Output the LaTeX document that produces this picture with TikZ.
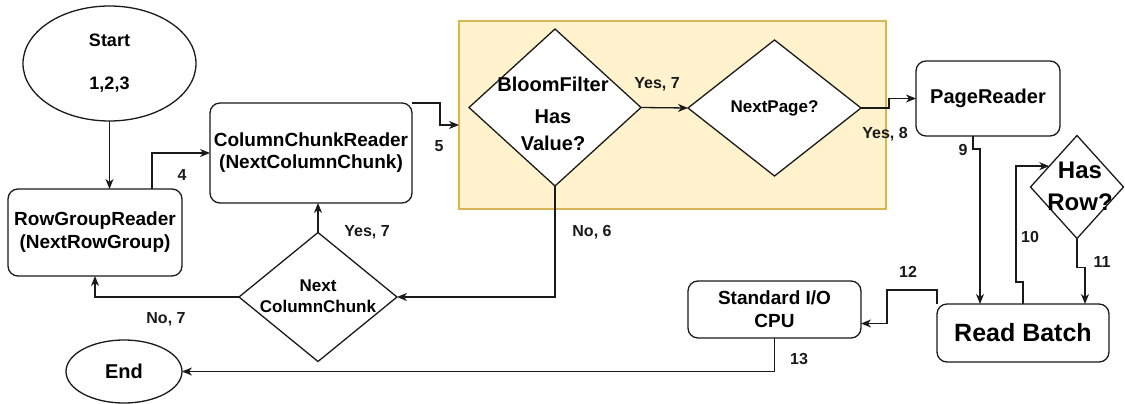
\documentclass[tikz,border=0pt]{standalone}
\usepackage{fontspec}
\setmainfont{Liberation Sans}
\usetikzlibrary{shapes.geometric,arrows.meta}
\definecolor{panelfill}{HTML}{FFF2CC}
\definecolor{panelline}{HTML}{D6B656}
\definecolor{ink}{HTML}{1A1A1A}

\begin{document}
\begin{tikzpicture}[x=1pt,y=-1pt,
  every node/.style={inner sep=0pt, outer sep=0pt, font=\bfseries},
  box/.style={draw=ink, line width=1.3pt, rounded corners=10pt, fill=white},
  oval/.style={draw=ink, line width=1.3pt, ellipse, fill=white},
  dia/.style={draw=ink, line width=1.3pt, diamond, fill=white},
  link/.style={draw=ink, line width=1.3pt, -{Stealth[length=10pt,width=8pt,inset=3pt]}},
  tag/.style={font=\fontsize{16}{19}\selectfont\bfseries, text=ink},
]
\useasboundingbox (0,0) rectangle (1125,404);

% highlighted page-level region
\node[draw=panelline, fill=panelfill, line width=1.2pt, minimum width=427, minimum height=188] (panel) at (672.5,115) {};

% terminals
\node[oval, minimum width=173, minimum height=115, align=center,
      font=\fontsize{18}{22}\selectfont\bfseries] (start) at (109.5,63.5) {Start\\[21pt]1,2,3};
\node[oval, minimum width=116, minimum height=63,
      font=\fontsize{20}{24}\selectfont\bfseries] (end) at (124,371.5) {End};

% readers
\node[box, minimum width=174, minimum height=87, align=center,
      font=\fontsize{19}{23}\selectfont\bfseries] (rowgroup) at (95,232.5) {RowGroupReader\\(NextRowGroup)};
\node[box, minimum width=202, minimum height=100, align=center,
      font=\fontsize{19}{22}\selectfont\bfseries] (colchunk) at (311,153) {ColumnChunkReader\\(NextColumnChunk)};
\node[box, minimum width=144, minimum height=75,
      font=\fontsize{20}{24}\selectfont\bfseries] (pagereader) at (988,98.5) {PageReader};
\node[box, minimum width=172, minimum height=58,
      font=\fontsize{25}{30}\selectfont\bfseries] (readbatch) at (1023,333) {Read Batch};
\node[box, minimum width=173, minimum height=57, align=center,
      font=\fontsize{19}{23}\selectfont\bfseries] (stdio) at (774.5,309.5) {Standard I/O\\CPU};

% decisions
\node[dia, minimum width=158, minimum height=129] (nextcc) at (318,297) {};
\node[align=center, font=\fontsize{17}{21}\selectfont\bfseries] (nextcctxt) at (318,296.5) {Next\\ColumnChunk};

\node[dia, minimum width=172, minimum height=157] (bloom) at (555,107.5) {};
\node[align=center, font=\fontsize{20}{24}\selectfont\bfseries] (bloomtxt) at (553,114) {BloomFilter\\[8pt]Has\\[3pt]Value?};

\node[dia, minimum width=173, minimum height=136,
      font=\fontsize{17}{20}\selectfont\bfseries] (nextpage) at (774.5,108) {NextPage?};

\node[dia, minimum width=93, minimum height=103] (hasrow) at (1077,187) {};
\node[align=center, font=\fontsize{24}{28}\selectfont\bfseries] (hasrowtxt) at (1080,186) {Has\\[4pt]Row?};

% connectors
\draw[link] (start.south) -- (start.south |- rowgroup.north);
\draw[link] ([xshift=57pt]rowgroup.north) |- (colchunk.west);
\draw[link] (colchunk.north east) -- ++(28,0) |- ([yshift=-10pt]panel.west);
\draw[link] (bloom.east) -- (nextpage.west);
\draw[link] (nextpage.east) -- ++(28,0) |- (pagereader.west);
\draw[link] ([xshift=-15pt]pagereader.south) -- ++(0,13) -| ([xshift=-43pt]readbatch.north);
\draw[link] (readbatch.north) -- ++(0,-22) -- ++(-7,0) |- (hasrow.143);
\draw[link] (hasrow.south) -- ++(0,29) -| ([xshift=62pt]readbatch.north);
\draw[link] (readbatch.north west) -- ++(0,-14) -- ++(-50,0) |- ([yshift=-14pt]stdio.east);
\draw[link] (stdio.south) |- (end.east);
\draw[link] (bloom.south) |- (nextcc.east);
\draw[link] (nextcc.north) -- (nextcc.north |- colchunk.south);
\draw[link] (nextcc.west) -| (rowgroup.south);

% connector labels
\node[tag] (l4) at (182,175) {4};
\node[tag] (l5) at (439,146) {5};
\node[tag] (lyes7a) at (657,84) {Yes, 7};
\node[tag] (lyes8) at (885,134) {Yes, 8};
\node[tag] (l9) at (963,150) {9};
\node[tag] (l10) at (1030,237) {10};
\node[tag] (l11) at (1102,262) {11};
\node[tag] (l12) at (908,272) {12};
\node[tag] (l13) at (799,359) {13};
\node[tag] (lno6) at (592,232) {No, 6};
\node[tag] (lyes7b) at (367,232) {Yes, 7};
\node[tag] (lno7) at (166,319) {No, 7};
\end{tikzpicture}
\end{document}
